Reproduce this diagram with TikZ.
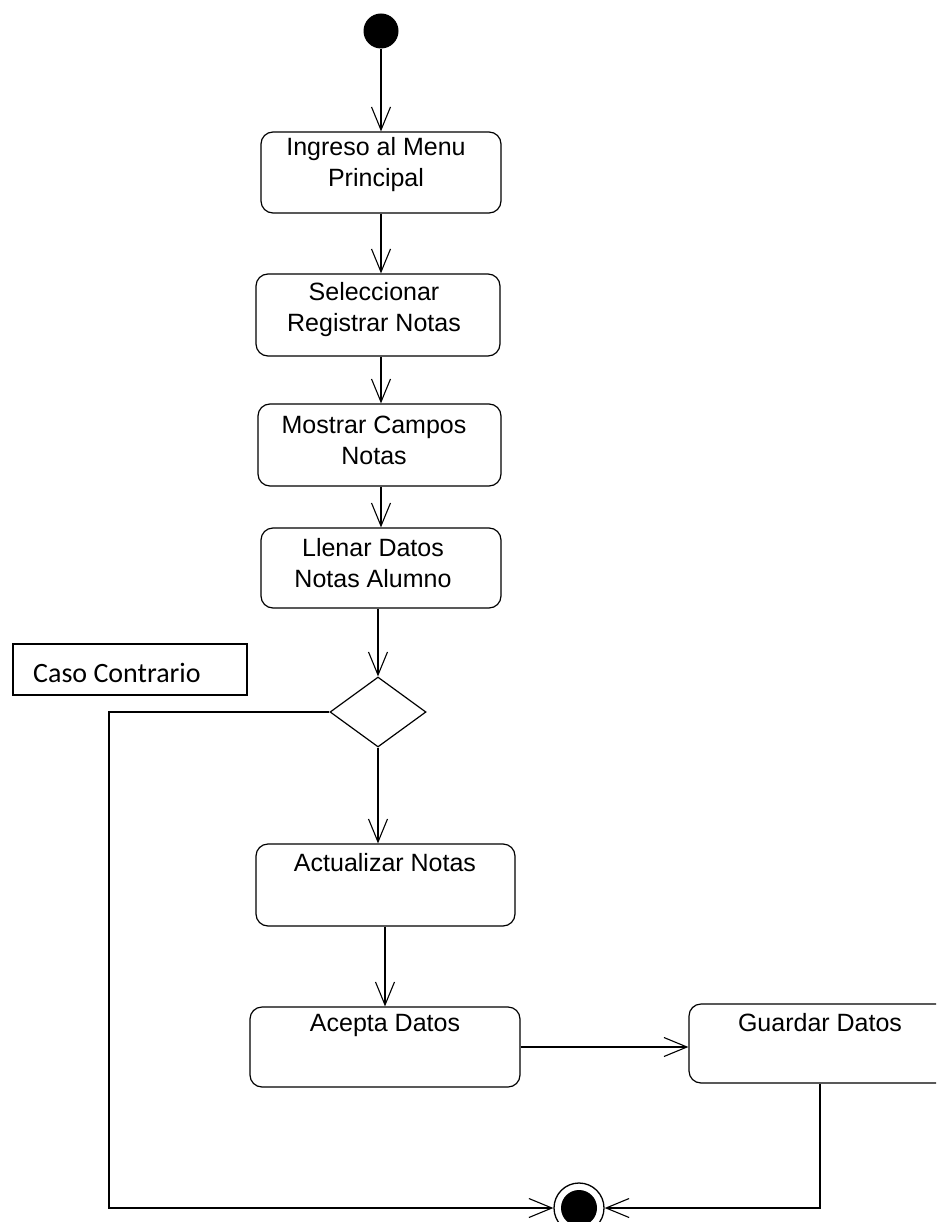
\documentclass[tikz,border=0pt]{standalone}
\usepackage{fontspec}
\setmainfont{Liberation Sans}
\newfontfamily\casofont{Carlito}
\usetikzlibrary{arrows.meta,shapes.geometric}

\begin{document}
\begin{tikzpicture}[x=1pt,y=-1pt,
  act/.style={draw, rounded corners=12pt, line width=1.2pt, inner sep=0pt},
  lbl/.style={inner sep=0pt, align=center, font=\fontsize{25}{31}\selectfont},
  flow/.style={draw, line width=1.1pt, -{Straight Barb[length=23pt,width=19pt,line width=1.1pt]}},
  plain/.style={draw, line width=1.1pt}]

  % page frame and clipping
  \useasboundingbox (0,0) rectangle (936,1222);
  \clip (0,0) rectangle (936,1222);

  % initial state
  \node[circle, fill=black, minimum size=35pt, inner sep=0pt] (start) at (381,31) {};

  % activities
  \node[act, minimum width=240pt, minimum height=81pt] (b1) at (381,172.5) {};
  \node[lbl] (t1) at (376,165) {Ingreso al Menu\\Principal};

  \node[act, minimum width=244pt, minimum height=82pt] (b2) at (378,315) {};
  \node[lbl] (t2) at (374,310) {Seleccionar\\Registrar Notas};

  \node[act, minimum width=243pt, minimum height=82pt] (b3) at (379.5,445) {};
  \node[lbl] (t3) at (374,440) {Mostrar Campos\\Notas};

  \node[act, minimum width=240pt, minimum height=80pt] (b4) at (381,568) {};
  \node[lbl] (t4) at (373,563) {Llenar Datos\\Notas Alumno};

  % decision
  \node[diamond, draw, line width=1.2pt, minimum width=96pt, minimum height=70pt, inner sep=0pt] (dia) at (378,712) {};

  \node[act, minimum width=259pt, minimum height=82pt] (b5) at (385.5,885) {};
  \node[lbl] (t5) at (385,863) {Actualizar Notas};

  \node[act, minimum width=270pt, minimum height=80pt] (b6) at (385,1047) {};
  \node[lbl] (t6) at (385,1025) {Acepta Datos};

  \node[act, minimum width=262pt, minimum height=79pt] (b7) at (820,1043.5) {};
  \node[lbl] (t7) at (820,1023) {Guardar Datos};

  % guard label
  \node[draw, line width=2.6pt, minimum width=234pt, minimum height=51pt, inner sep=0pt] (caso) at (130,669.5) {};
  \node[inner sep=0pt, anchor=west, font=\casofont\fontsize{28}{32}\selectfont] (casotxt) at (33,673) {Caso Contrario};

  % final state
  \node[circle, draw, line width=1.3pt, minimum size=50pt, inner sep=0pt] (fin) at (579,1208) {};
  \node[circle, fill=black, minimum size=36pt, inner sep=0pt] (finin) at (fin) {};

  % helper coordinates for the return path
  \coordinate (leftx) at (109,0);

  % transitions
  \path[flow] (start) -- (b1.north -| start);
  \path[flow] (b1) -- (b2.north -| b1);
  \path[flow] (b2.south -| b1) -- (b3.north -| b1);
  \path[flow] (b3.south -| b1) -- (b4.north -| b1);
  \path[flow] (b4.south -| dia) -- (dia.north);
  \path[flow] (dia.south) -- (b5.north -| dia.south);
  \path[flow] (b5.south -| b6) -- (b6.north);
  \path[flow] (b6.east) -- (b6.east -| b7.west);
  \path[flow] (b7.south) |- (fin.east);
  \path[flow] (dia.west) -- (dia.west -| leftx) |- (fin.west);
\end{tikzpicture}
\end{document}
